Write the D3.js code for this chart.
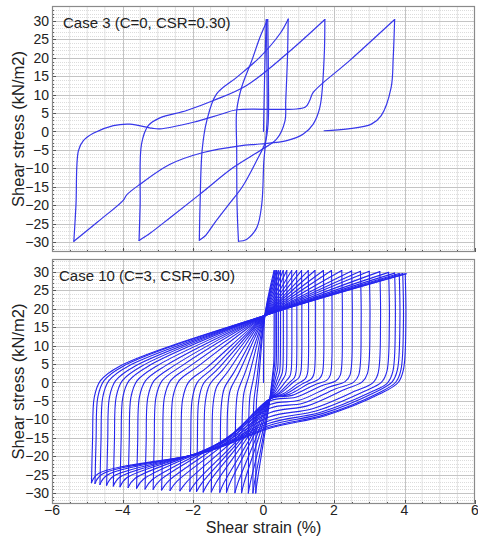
<!DOCTYPE html>
<html><head><meta charset="utf-8">
<script src="https://cdn.jsdelivr.net/npm/d3@7"></script>
<style>
body{margin:0;background:#fff}
svg{display:block}
text{font-family:"Liberation Sans",Arial,Helvetica,sans-serif;fill:#222}
</style>
</head><body>
<svg id="c" width="478" height="538"></svg>
<script>
// ---------------- data ----------------
const xTicks = [-6, -4, -2, 0, 2, 4, 6];
const yTicks = [-30, -25, -20, -15, -10, -5, 0, 5, 10, 15, 20, 25, 30];
const panelTitles = ["Case 3 (C=0, CSR=0.30)", "Case 10 (C=3, CSR=0.30)"];
const xLabel = "Shear strain (%)";
const yLabel = "Shear stress (kN/m2)";

// Case 3: branches of the stress path, [strain %, stress kN/m2]
const case3Start = [[0, 0], [0.02, 10], [0.05, 22], [0.08, 30.4]];
const case3Branch1 = [[0.08, 30.4], [0.1, 15], [0.1, 3], [0.05, -4], [0.01, -8], [-0.05, -19.8], [-0.19, -26.1], [-0.48, -29.3], [-0.71, -29.8]];
const case3Branch2 = [[-0.71, -29.8], [-0.75, -20], [-0.76, -5], [-0.76, 5.7], [-0.62, 12], [-0.33, 19.3], [-0.1, 25.6], [0.12, 30.4]];
const case3Branch3 = [[0.12, 30.4], [0.14, 15], [0.13, 2], [0.05, -3], [-0.2, -8], [-0.6, -15], [-1.0, -20], [-1.4, -25], [-1.65, -28.3], [-1.82, -29.5]];
const case3Branch4 = [[-1.82, -29.5], [-1.8, -20], [-1.74, -5], [-1.61, 2.9], [-1.33, 10.2], [-0.76, 14.7], [-0.1, 20.2], [0.47, 26.6], [0.7, 30.5]];
const case3Branch5 = [[0.7, 30.5], [0.68, 20], [0.63, 8], [0.61, 2.9], [0.37, -2.1], [-0.1, -5.2], [-0.86, -9.8], [-1.8, -17], [-2.65, -23.4], [-3.2, -27.5], [-3.53, -29.6]];
const case3Branch6 = [[-3.53, -29.6], [-3.5, -20], [-3.46, -3.4], [-3.27, 1.6], [-2.94, 3.7], [-2.18, 5.7], [-1.42, 8.4], [-0.48, 12.5], [0.66, 21.1], [1.74, 30.4]];
const case3Branch7 = [[1.74, 30.4], [1.72, 20], [1.6, 6.6], [1.41, 2.0], [1.13, -0.7], [0.66, -2.5], [-0.1, -3.4], [-0.67, -3.9], [-1.71, -5.7], [-2.65, -8.9], [-3.5, -14.3], [-3.88, -17.2], [-3.98, -18.7], [-4.7, -24.5], [-5.38, -29.8]];
const case3Branch8 = [[-5.38, -29.8], [-5.32, -20], [-5.25, -5.2], [-5.11, -2.5], [-4.83, -0.5], [-4.26, 1.6], [-3.79, 2.0], [-3.17, 0.9], [-2.94, 0.7], [-1.99, 2.5], [-1.23, 4.6], [-0.76, 5.9], [1.18, 6.6], [1.31, 8.4], [1.41, 10.6], [2.45, 19.3], [3.72, 30.4]];
const case3Branch9 = [[3.72, 30.4], [3.68, 20], [3.62, 11.9], [3.34, 4.3], [3.06, 2.0], [2.4, 0.7], [1.72, 0.2]];

// Case 10: successive peaks / troughs of the cyclic loops
const case10PeakStrain = [0.30, 0.33, 0.37, 0.42, 0.48, 0.56, 0.66, 0.80, 0.94, 1.08, 1.27, 1.46, 1.70, 1.93, 2.22, 2.50, 2.75, 3.00, 3.30, 3.55, 3.72, 3.85, 3.95, 4.02, 4.06];
const case10PeakStress = [30.4, 30.4, 30.4, 30.4, 30.4, 30.4, 30.4, 30.4, 30.4, 30.4, 30.4, 30.4, 30.4, 30.4, 30.4, 30.3, 30.2, 30.2, 30.1, 29.9, 29.7, 29.6, 29.6, 29.5, 29.5];
const case10TroughStrain = [-0.22, -0.30, -0.43, -0.62, -0.81, -1.05, -1.24, -1.48, -1.71, -1.90, -2.09, -2.37, -2.65, -2.89, -3.13, -3.36, -3.60, -3.84, -4.07, -4.26, -4.45, -4.64, -4.78, -4.88];
const case10TroughStress = [-30.0, -30.0, -30.0, -29.9, -29.9, -29.8, -29.8, -29.7, -29.7, -29.6, -29.5, -29.4, -29.3, -29.2, -29.0, -28.9, -28.7, -28.5, -28.3, -28.1, -27.9, -27.7, -27.4, -27.2];
// stress where reloading leaves the near-vertical part (per trough)
const case10UpperKnee = [-10, -10, -9, -8, -7.5, -7, -6.5, -6, -5.5, -5, -4.5, -4.5, -4, -4, -4, -4, -4, -4, -4, -4, -4, -4, -4, -4];
// stress where unloading leaves the near-vertical part (per peak)
const case10LowerKnee = [8, 8, 7, 6, 5, 4.5, 4, 3.5, 3, 3, 2.5, 2.5, 2.5, 2, 2, 2, 2, 2.5, 2.5, 3, 3, 3.5, 3.5, 3.5];
// stress of each unloading branch where it crosses strain 0.18 %
const case10LowerCross = [-4.5, -4.5, -4.5, -4.5, -4.5, -4.5, -4.5, -4.5, -4.5, -4.5, -4.5, -4.5, -4.5, -4.5, -5, -6, -7, -8.2, -9.3, -10.3, -11, -11.6, -12.1, -12.4];
const case10Start = [[0, 0], [0, 4], [0.005, 8.2]];
const case10UpperPivot = [0.04, 18.2];
const case10LowerCrossStrain = 0.18;

// ---------------- layout ----------------
const svg = d3.select("#c");
const x = d3.scaleLinear().domain([-6, 6]).range([52, 475]);
const panels = [
  {y: d3.scaleLinear().domain([-32.72, 34.07]).range([252, 6]), top: 6, bottom: 252, title: panelTitles[0], tx: 63, ty: 28, xLabels: false},
  {y: d3.scaleLinear().domain([-32.99, 33.53]).range([504, 259]), top: 259, bottom: 504, title: panelTitles[1], tx: 59, ty: 281, xLabels: true}
];
const fmt = d3.format("d");

panels.forEach((p, pi) => {
  const g = svg.append("g");
  const y = p.y;
  // minor grid
  const xMinor = d3.range(-6, 6.01, 0.5).filter(v => Math.abs(v % 2) > 1e-6);
  const yMinor = d3.range(-32, 34, 1).filter(v => v % 5 !== 0 && y(v) > p.top && y(v) < p.bottom);
  g.selectAll(".xm").data(xMinor).join("line")
    .attr("x1", d => x(d)).attr("x2", d => x(d)).attr("y1", p.top).attr("y2", p.bottom)
    .attr("stroke", "#e3e3e3").attr("stroke-width", 1);
  g.selectAll(".ym").data(yMinor).join("line")
    .attr("x1", x(-6)).attr("x2", x(6)).attr("y1", d => Math.round(y(d)) + 0.5).attr("y2", d => Math.round(y(d)) + 0.5)
    .attr("stroke", "#dcdcdc").attr("stroke-width", 1).attr("stroke-dasharray", "1,1");
  // major grid
  g.selectAll(".xM").data(xTicks.slice(1, -1)).join("line")
    .attr("x1", d => Math.round(x(d)) + 0.5).attr("x2", d => Math.round(x(d)) + 0.5).attr("y1", p.top).attr("y2", p.bottom)
    .attr("stroke", "#c4c4c4").attr("stroke-width", 1);
  g.selectAll(".yM").data(yTicks).join("line")
    .attr("x1", x(-6)).attr("x2", x(6)).attr("y1", d => Math.round(y(d)) + 0.5).attr("y2", d => Math.round(y(d)) + 0.5)
    .attr("stroke", "#c4c4c4").attr("stroke-width", 1);

  // ticks (inward)
  const xTickAll = d3.range(-6, 6.01, 0.5);
  g.selectAll(".xt").data(xTickAll).join("line")
    .attr("x1", d => Math.round(x(d)) + 0.5).attr("x2", d => Math.round(x(d)) + 0.5)
    .attr("y1", p.bottom).attr("y2", d => p.bottom - (Math.abs(d % 2) < 1e-6 ? 4 : 2))
    .attr("stroke", "#555");
  const yTickAll = d3.range(-32, 34, 1).filter(v => y(v) > p.top && y(v) < p.bottom);
  g.selectAll(".yt").data(yTickAll).join("line")
    .attr("x1", x(-6)).attr("x2", d => x(-6) + (d % 5 === 0 ? 4 : 2))
    .attr("y1", d => Math.round(y(d)) + 0.5).attr("y2", d => Math.round(y(d)) + 0.5)
    .attr("stroke", "#555");

  // frame
  g.append("rect").attr("x", x(-6) + 0.5).attr("y", p.top + 0.5)
    .attr("width", x(6) - x(-6) - 1).attr("height", p.bottom - p.top - 1)
    .attr("fill", "none").attr("stroke", "#8a8a8a").attr("stroke-width", 1.2);

  // y tick labels
  g.selectAll(".yl").data(yTicks).join("text")
    .attr("x", 49).attr("y", d => y(d)).attr("dy", "0.36em")
    .attr("text-anchor", "end").attr("font-size", 14).text(d => fmt(d));
  // y axis title
  g.append("text")
    .attr("transform", `translate(24,${(p.top + p.bottom) / 2}) rotate(-90)`)
    .attr("text-anchor", "middle").attr("font-size", 16.5).text(yLabel);
  // panel title
  g.append("text").attr("x", p.tx).attr("y", p.ty).attr("font-size", 15).text(p.title);

  if (p.xLabels) {
    g.selectAll(".xl").data(xTicks).join("text")
      .attr("x", d => x(d)).attr("y", 515).attr("text-anchor", "middle")
      .attr("font-size", 14).text(d => fmt(d));
  }

  // clip
  svg.append("clipPath").attr("id", "clip" + pi).append("rect")
    .attr("x", x(-6) + 1).attr("y", p.top + 1).attr("width", x(6) - x(-6) - 2).attr("height", p.bottom - p.top - 2);
});

svg.append("text").attr("x", (x(-6) + x(6)) / 2).attr("y", 533)
  .attr("text-anchor", "middle").attr("font-size", 16).text(xLabel);

// ---------------- curves ----------------
function drawBranches(branches, p, pi, color, width) {
  const line = d3.line().x(d => x(d[0])).y(d => p.y(d[1])).curve(d3.curveCatmullRom.alpha(0.5));
  svg.append("g").attr("clip-path", `url(#clip${pi})`)
    .selectAll("path").data(branches).join("path")
    .attr("d", line).attr("fill", "none").attr("stroke", color)
    .attr("stroke-width", width).attr("stroke-linejoin", "round").attr("stroke-linecap", "round");
}

// Case 3
drawBranches([case3Start, case3Branch1, case3Branch2, case3Branch3, case3Branch4,
  case3Branch5, case3Branch6, case3Branch7, case3Branch8, case3Branch9], panels[0], 0, "#3636ea", 1.2);

// Case 10 — each half cycle is passed through its read peak / knee / trough points
const up = case10UpperPivot, cx = case10LowerCrossStrain;
function upperBranch(i) {
  const xt = case10TroughStrain[i], yt = case10TroughStress[i], kU = case10UpperKnee[i];
  const xp = case10PeakStrain[i + 1], yp = case10PeakStress[i + 1];
  const s = Math.min(1, (up[0] - xt) / 2.5), d = up[1] - kU;
  return [[xt, yt], [xt + 0.03 * s, (yt + kU) / 2], [xt + 0.08 * s, kU],
    [xt + 0.25 * s, kU + 0.2 * d], [xt + 0.8 * s, kU + 0.38 * d], up, [xp, yp]];
}
function lowerBranch(i) {
  const xp = case10PeakStrain[i], yp = case10PeakStress[i], kD = case10LowerKnee[i], cy = case10LowerCross[i];
  const xt = case10TroughStrain[i], yt = case10TroughStress[i];
  const s2 = Math.min(1, (xp - cx) / 2.5), s3 = Math.min(1, (cx - xt) / 2.5), d = kD - cy;
  const k3 = [xp - 0.7 * s2, kD - 0.41 * d];
  return [[xp, yp], [xp + 0.02 * s2, (yp + kD) / 2], [xp - 0.05 * s2, kD], [xp - 0.2 * s2, kD - 0.22 * d], k3,
    [(k3[0] + cx) / 2, (k3[1] + cy) / 2 - 1.3 * s2], [cx, cy],
    [cx + 0.35 * (xt - cx), cy + 0.35 * (yt - cy) - 1.2 * s3],
    [xt + 0.2 * s3, yt + 2.5], [xt, yt]];
}
const case10Branches = [case10Start.concat([up, [case10PeakStrain[0], case10PeakStress[0]]])];
case10TroughStrain.forEach((_, i) => {
  case10Branches.push(lowerBranch(i));
  case10Branches.push(upperBranch(i));
});
drawBranches(case10Branches, panels[1], 1, "#2424ee", 1.1);
</script>
</body></html>
